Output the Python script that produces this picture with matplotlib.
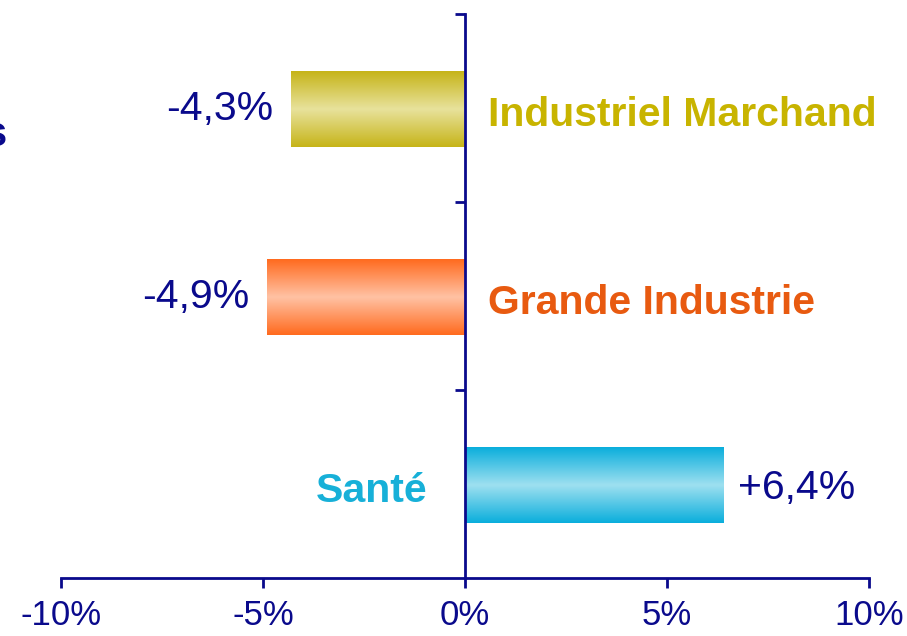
import matplotlib
matplotlib.use("Agg")
import matplotlib.pyplot as plt
import numpy as np
from matplotlib.colors import LinearSegmentedColormap

plt.rcParams['font.family'] = ['Liberation Sans', 'DejaVu Sans']

# data (bottom to top)
categories = ["Santé", "Grande Industrie", "Industriel Marchand"]
values = [6.4, -4.9, -4.3]
value_labels = ["+6,4%", "-4,9%", "-4,3%"]
edge_colors = ["#0AAEDC", "#FF6A1E", "#C6B418"]
mid_colors = ["#9EE0F0", "#FFC2A4", "#E8E29C"]
label_colors = ["#17B0D8", "#E85A10", "#C8B400"]
xticks = [-10, -5, 0, 5, 10]
xtick_labels = ["-10%", "-5%", "0%", "5%", "10%"]

navy = "#0A0A8C"

fig = plt.figure(figsize=(9.07, 6.36), dpi=100)
ax = fig.add_axes([0.0673, 0.0912, 0.8909, 0.8868])

bar_h = 0.4
grad = np.linspace(0, 1, 256).reshape(-1, 1)
for i, v in enumerate(values):
    cmap = LinearSegmentedColormap.from_list(
        "g%d" % i, [edge_colors[i], mid_colors[i], edge_colors[i]])
    ax.imshow(grad, cmap=cmap, aspect='auto', interpolation='bicubic',
              extent=[0, v, i - bar_h / 2 - 0.01, i + bar_h / 2 - 0.01], zorder=2)

    # value label and category label
    if v < 0:
        ax.text(v - 0.45, i - 0.005, value_labels[i], ha='right', va='center',
                fontsize=29.5, color=navy)
        ax.text(0.57, i - 0.035, categories[i], ha='left', va='center',
                fontsize=29.5, fontweight='bold', color=label_colors[i])
    else:
        ax.text(v + 0.35, i - 0.02, value_labels[i], ha='left', va='center',
                fontsize=29.5, color=navy)
        ax.text(-0.92, i - 0.035, categories[i], ha='right', va='center',
                fontsize=29.5, fontweight='bold', color=label_colors[i])

ax.set_xlim(-10, 10)
ax.set_ylim(-0.5, 2.5)

for s in ['top', 'right']:
    ax.spines[s].set_visible(False)
ax.spines['left'].set_position(('data', 0))
ax.spines['left'].set_color(navy)
ax.spines['left'].set_linewidth(2)
ax.spines['left'].set_zorder(3)
ax.spines['bottom'].set_color(navy)
ax.spines['bottom'].set_linewidth(2)

ax.set_yticks([0.5, 1.5, 2.5])
ax.set_yticklabels([])
ax.tick_params(axis='y', direction='out', length=7, width=2, color=navy)

ax.set_xticks(xticks)
ax.set_xticklabels(xtick_labels)
ax.tick_params(axis='x', direction='out', length=7, width=2, color=navy,
               labelcolor=navy, labelsize=25, pad=8)

# cut-off text at the left edge
fig.text(-0.018, 0.787, "s", fontsize=30, fontweight='bold', color=navy,
         ha='left', va='center')

fig.savefig("out.png", dpi=100)
